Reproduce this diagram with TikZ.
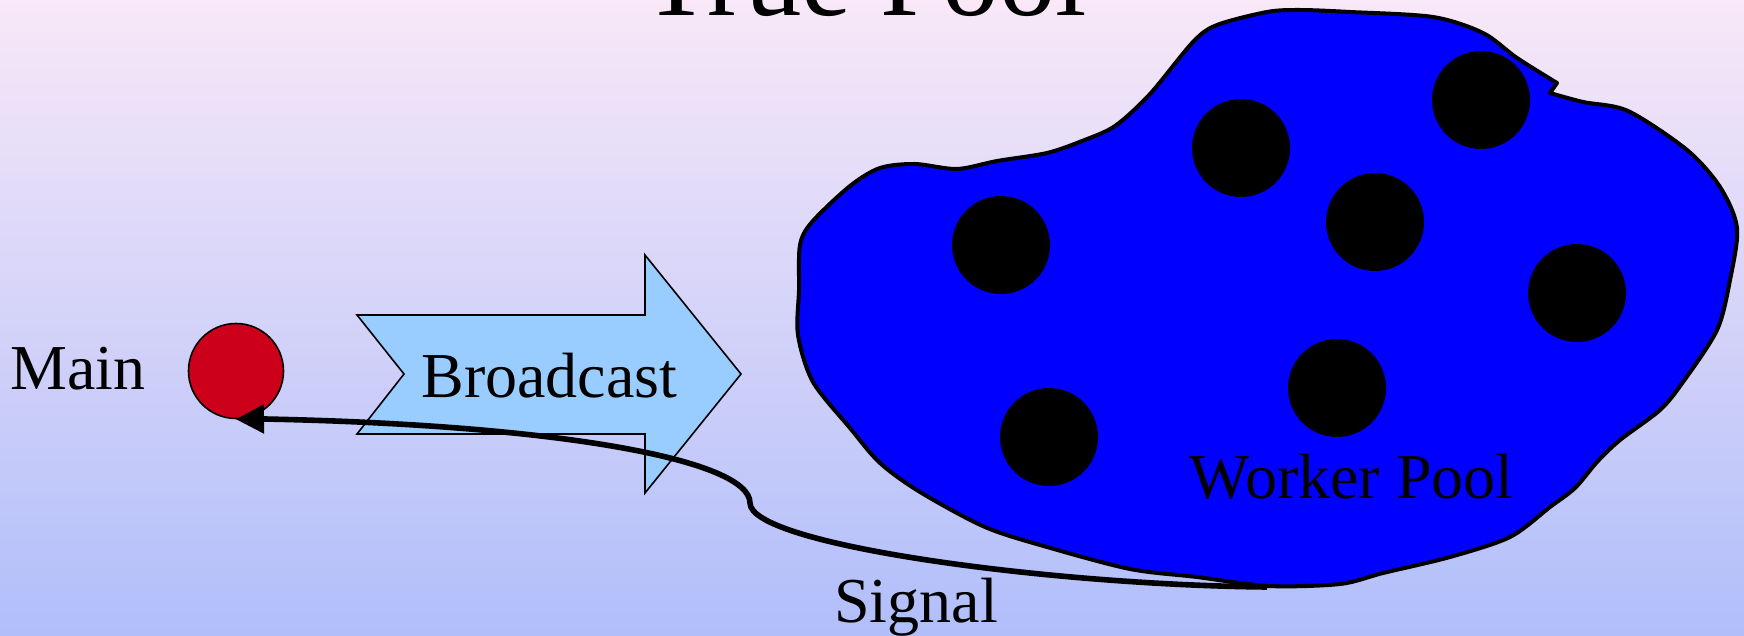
\documentclass[tikz,border=0pt]{standalone}
\usepackage{fontspec}
\setmainfont{Liberation Serif}
\usetikzlibrary{arrows.meta}
\definecolor{bgtop}{RGB}{248,232,248}
\definecolor{bgbot}{RGB}{176,190,250}
\definecolor{mainred}{RGB}{204,0,26}
\definecolor{bcast}{RGB}{153,204,255}
\definecolor{poolblue}{RGB}{0,0,255}
\begin{document}
\begin{tikzpicture}[x=0.5pt,y=-0.5pt,
  lbl/.style={font=\fontsize{32}{38}\selectfont, inner sep=0pt},
  worker/.style={circle, fill=black, inner sep=0pt, minimum size=49pt},
  mainnode/.style={circle, fill=mainred, draw=black, line width=0.8pt, inner sep=0pt, minimum size=47.5pt},
  bcastshape/.style={fill=bcast, draw=black, line width=0.8pt, line join=miter},
  poolshape/.style={fill=poolblue, draw=black, line width=2pt, line join=round},
  signalline/.style={line width=2.8pt, -{Triangle[length=14pt,width=14pt]}}
]
\useasboundingbox (0,0) rectangle (1744,636);
\shade[top color=bgtop, bottom color=bgbot] (0,0) rectangle (1744,636);

% title (cut off at the top)
\node[font=\fontsize{56.5}{60}\selectfont, anchor=base, inner sep=0pt] (title) at (865,16) {True Pool};

% broadcast arrow
\draw[bcastshape] (357,315) -- (645,315) -- (645,255) -- (741,374) -- (645,493) -- (645,434) -- (357,434) -- (404,374) -- cycle;
\node[lbl, anchor=base west] (bcasttext) at (421,397) {Broadcast};

% worker pool blob
\draw[poolshape] plot[smooth, tension=0.5] coordinates {
 (1550,93) (1583,102) (1628,111) (1687,150) (1720,187) (1737,228)
 (1730,280) (1717,330) (1683,382) (1660,410) (1620,440) (1597,462)
 (1575,488) (1550,507) (1510,537) (1450,557) (1383,573) (1340,584) (1268,586)
 (1197,577) (1130,569) (1047,547) (985,527) (920,492)
 (880,463) (850,428) (813,382) (798,335) (799,290) (800,245) (812,222)
 (850,186) (880,168) (915,164) (957,169) (997,161) (1047,153)
 (1082,141) (1115,126) (1150,94) (1193,42) (1217,25) (1267,12) (1300,10)
 (1350,12) (1433,17) (1483,33) (1517,58) (1557,83)
} -- cycle;

% workers
\node[worker] (w1) at (1001,245) {};
\node[worker] (w2) at (1241,148) {};
\node[worker] (w3) at (1481,100) {};
\node[worker] (w4) at (1375,222) {};
\node[worker] (w5) at (1577,293) {};
\node[worker] (w6) at (1337,388) {};
\node[worker] (w7) at (1049,437) {};
\node[lbl, anchor=base east] (pooltext) at (1514,498) {Worker Pool};

% main
\node[mainnode] (main) at (236,371) {};
\node[lbl, anchor=base west] (maintext) at (10,389) {Main};

% signal
\coordinate (sigstart) at (1267,587);
\draw[signalline] (sigstart) .. controls (1050,585) and (750,545) .. (750,503)
  .. controls (750,460) and (560,425) .. (265,419) -- (main.south);
\node[lbl, anchor=base west] (sigtext) at (834,622) {Signal};
\end{tikzpicture}
\end{document}
